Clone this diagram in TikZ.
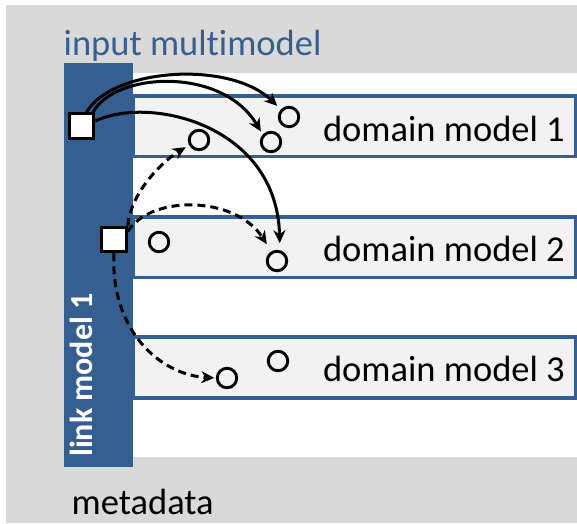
\documentclass[tikz,border=0pt]{standalone}
\usepackage{fontspec}
\setmainfont[Ligatures=NoCommon]{Carlito}
\usetikzlibrary{arrows.meta}

\definecolor{barblue}{RGB}{54,95,145}
\definecolor{panelgrey}{RGB}{217,217,217}
\definecolor{boxfill}{RGB}{242,242,242}

\tikzset{
  domainbox/.style={draw=barblue, fill=boxfill, line width=3.5pt},
  label/.style={inner sep=0pt, font=\fontsize{36.5}{40}\selectfont},
  endpoint/.style={circle, draw=black, line width=2.9pt, minimum size=19.5pt, inner sep=0pt},
  linkend/.style={rectangle, draw=black, fill=white, line width=3pt, minimum size=24.5pt, inner sep=0pt},
  link/.style={line width=3pt, -{Stealth[length=13pt,width=12pt]}},
  dlink/.style={link, dash pattern=on 8pt off 5pt},
}

\begin{document}
\begin{tikzpicture}[x=1pt, y=-1pt]
  \useasboundingbox (0,0) rectangle (577,523);

  % metadata panel, multimodel area and link model bar
  \fill[panelgrey] (6,5) rectangle (577,523);
  \fill[white] (133,73) rectangle (577,457);
  \fill[barblue] (64,63) rectangle (133,467);

  % domain models
  \draw[domainbox] (133,96) rectangle (575.5,156.5);
  \draw[domainbox] (133,217) rectangle (575.5,277.5);
  \draw[domainbox] (133,337) rectangle (575.5,398);

  \node[label, anchor=base east] (dm1) at (565,141.7) {domain model 1};
  \node[label, anchor=base east] (dm2) at (565,261.7) {domain model 2};
  \node[label, anchor=base east] (dm3) at (565,381.7) {domain model 3};

  \node[label, anchor=base west, text=barblue] (multi) at (63.5,55) {input multimodel};
  \node[label, anchor=base west] (meta) at (71.5,514) {metadata};
  \node[inner sep=0pt, anchor=base west, rotate=90, text=white,
        font=\fontsize{32}{36}\selectfont\bfseries] (lm) at (92,457) {link model 1};

  % model elements
  \node[endpoint] (c1a) at (289,117) {};
  \node[endpoint] (c1b) at (271,142) {};
  \node[endpoint] (c1c) at (199,140) {};
  \node[endpoint] (c2a) at (159,242) {};
  \node[endpoint] (c2b) at (277,261) {};
  \node[endpoint] (c3a) at (227,378) {};
  \node[endpoint] (c3b) at (278,361) {};

  % links
  \node[linkend] (sq1) at (81.5,126) {};
  \node[linkend] (sq2) at (114,239.5) {};

  \draw[link, shorten >=5pt] (sq1.70) .. controls (112,68) and (230,60) .. (c1a.137);
  \draw[link, shorten >=3.5pt] (sq1.50) .. controls (115,72) and (222,66) .. (c1b.138);
  \draw[link, shorten >=7pt] (sq1.20) .. controls (150,95) and (277,125) .. (c2b.75);

  \draw[dlink, shorten >=4pt] (sq2.north east) .. controls (130,195) and (160,163) .. (c1c.207);
  \draw[dlink, shorten >=8.5pt] (sq2.30) .. controls (150,195) and (235,195) .. (c2b.120);
  \draw[dlink, shorten >=1.5pt] (sq2.south) .. controls (110,330) and (160,375) .. (c3a.180);
\end{tikzpicture}
\end{document}
